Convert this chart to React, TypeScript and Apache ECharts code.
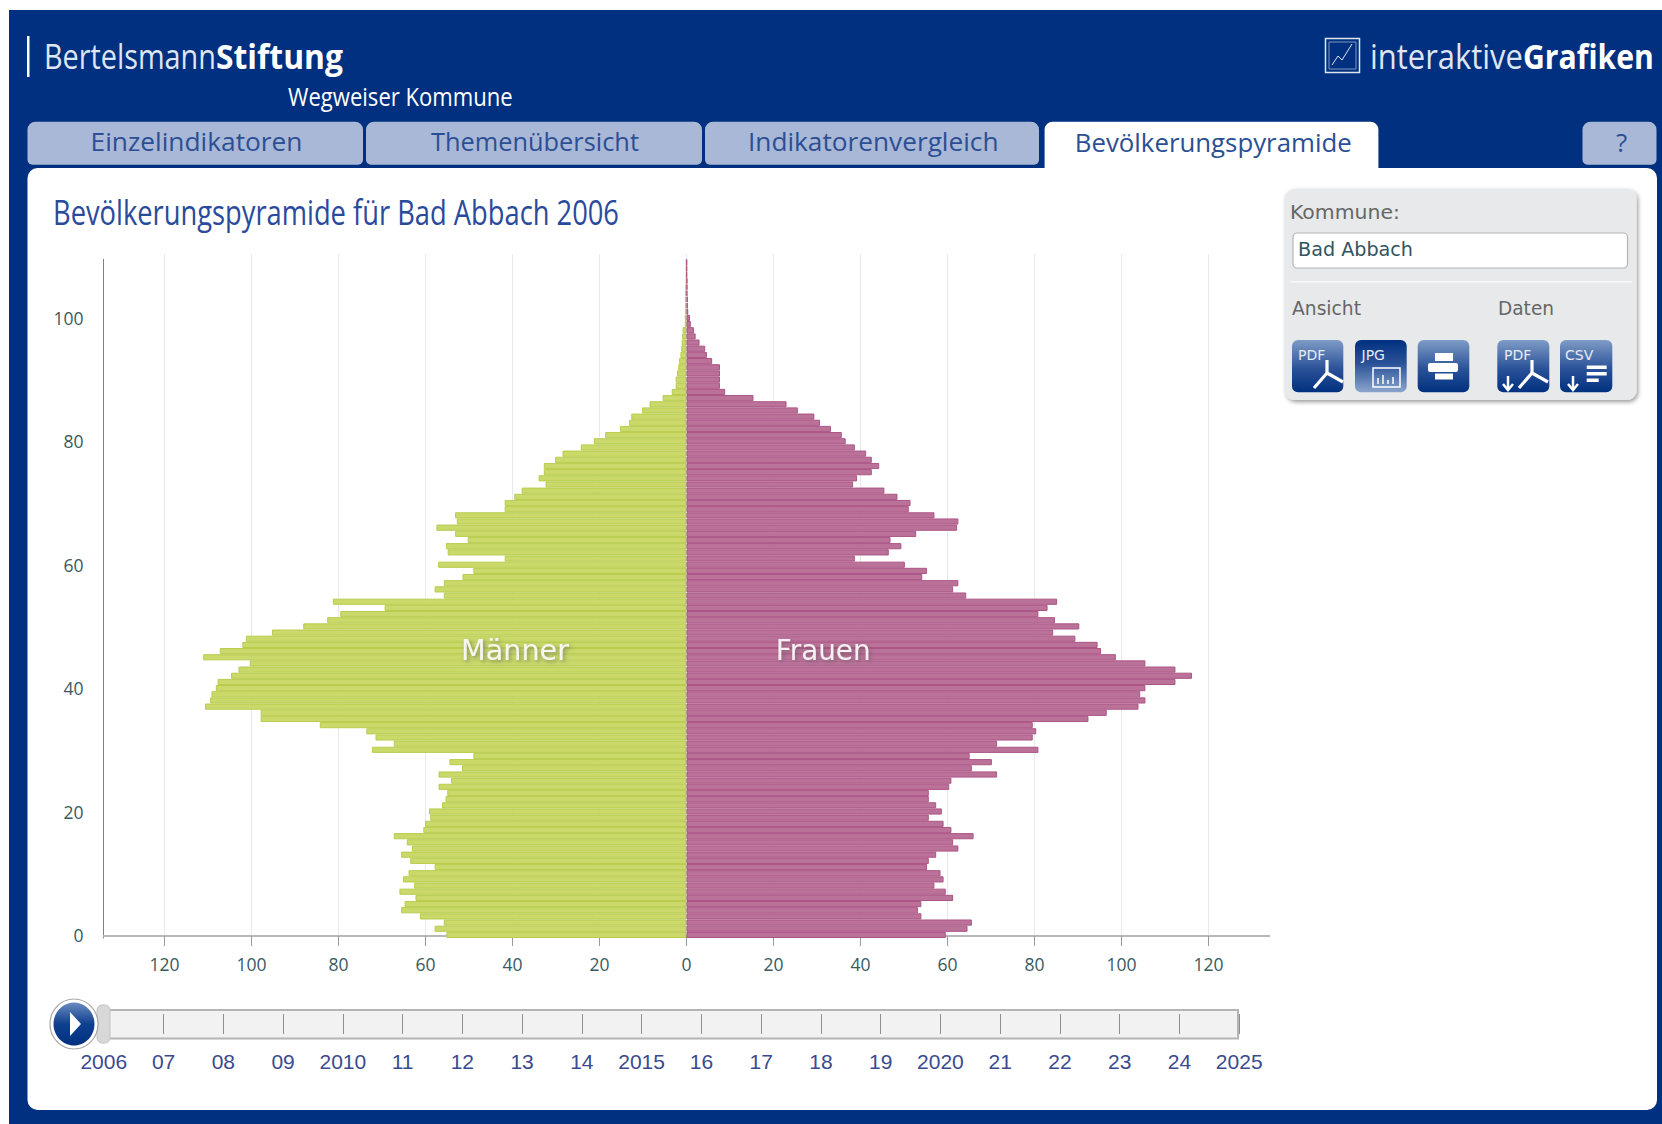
import React, { useEffect, useRef } from "react";
import * as echarts from "echarts";

const ages = Array.from({ length: 110 }, (_, i) => String(i));
const maleValues = [
  55.2, 57.9, 55.8, 61.3, 65.6, 64.8, 62.3, 66, 62.6, 65.2,
  63.9, 57.9, 63.5, 65.6, 63.1, 64.3, 67.3, 60.5, 60.1, 58.9,
  59.2, 56.2, 55.4, 55, 57, 54.1, 57, 51.6, 54.5, 49,
  72.3, 67.3, 71.5, 73.6, 84.3, 97.9, 97.9, 110.7, 109.5, 109.2,
  108.2, 107.8, 104.7, 103, 100.4, 111.1, 107.3, 102.1, 101.3, 95.3,
  88.1, 82.6, 79.6, 69.4, 81.3, 55.8, 57.9, 55.8, 51.5, 49,
  57.1, 41.8, 54.9, 55.3, 50.3, 53.2, 57.5, 52.8, 53.2, 41.8,
  41.8, 39.6, 37.9, 32.4, 34, 32.8, 32.8, 30.2, 28.5, 24.3,
  21.3, 18.7, 15.3, 13.2, 12.7, 10.2, 8.5, 5.5, 3.4, 2.5,
  2.5, 2.2, 1.9, 1.7, 1.4, 1.2, 1.1, 1, 0.9, 0.4,
  0.4, 0.3, 0.3, 0.3, 0.3, 0.2, 0.1, 0.1, 0.1, 0.1,
];
const femaleValues = [
  59.6, 64.6, 65.6, 54, 53.2, 54, 61.3, 59.6, 57, 59.1,
  58.4, 55.3, 55.7, 57.4, 62.5, 61.3, 66, 60.9, 59.1, 55.7,
  58.7, 57.4, 55.7, 55.7, 60.4, 60.9, 71.4, 65.6, 70.2, 65.1,
  80.9, 71.4, 79.6, 80.4, 79.6, 92.4, 96.6, 103.9, 105.5, 104.3,
  105.5, 112.4, 116.2, 112.4, 105.5, 98.7, 95.3, 94.5, 89.4, 84.3,
  90.3, 84.7, 80.9, 83, 85.2, 64.3, 61.3, 62.5, 54.2, 55.3,
  50.2, 38.7, 46.5, 49.4, 46.9, 52.8, 62.2, 62.5, 57, 51.1,
  51.5, 48.5, 45.5, 38.3, 39.2, 42.6, 44.3, 42.6, 41.3, 38.7,
  36.6, 35.7, 33.2, 30.7, 29.4, 25.6, 23, 15.4, 8.9, 7.7,
  7.7, 7.7, 7.7, 5.9, 4.7, 4.3, 3, 2.1, 1.7, 1,
  0.8, 0.4, 0.3, 0.3, 0.2, 0.2, 0.2, 0.1, 0.1, 0.1,
];
const sliderLabels = [
  "2006", "07", "08", "09", "2010", "11", "12", "13", "14", "2015",
  "16", "17", "18", "19", "2020", "21", "22", "23", "24", "2025",
];
const tabLabels = ["Einzelindikatoren", "Themenübersicht", "Indikatorenvergleich"];

const BLUE = "#00307f";
const OS = '"Open Sans", sans-serif';
const DV = '"DejaVu Sans", sans-serif';

const measureCanvas = document.createElement("canvas").getContext("2d")!;
function fit(text: string, size: number, family: string, weight: string, width: number) {
  measureCanvas.font = `${weight} ${size}px ${family}`;
  return width / measureCanvas.measureText(text).width;
}

function buildGraphic() {
  const els: any[] = [];
  const add = (e: any) => {
    e.z = e.z ?? -200 + els.length * 0.1;
    els.push(e);
  };
  const rect = (x: number, y: number, w: number, h: number, r: any, fill: any, extra: any = {}) =>
    add({ type: "rect", shape: { x, y, width: w, height: h, r }, style: { fill, ...extra }, silent: true });
  const text = (s: string, x: number, y: number, size: number, fill: string, o: any = {}) => {
    const family = o.family ?? OS;
    const weight = o.weight ?? "normal";
    const scaleX = o.width ? fit(s, size, family, weight, o.width) : 1;
    add({
      type: "text", x, y, scaleX, z: o.z,
      style: {
        text: s, fill, fontSize: size, fontFamily: family, fontWeight: weight,
        textAlign: o.align ?? "left", textVerticalAlign: "middle",
        textShadowBlur: o.blur ?? 0, textShadowColor: o.shadow ?? "transparent",
        textShadowOffsetX: o.blur ? 2 : 0, textShadowOffsetY: o.blur ? 2 : 0,
      },
      silent: true,
    });
  };
  const poly = (points: number[][], stroke: string, lineWidth: number, z?: number) =>
    add({ type: "polyline", z, shape: { points }, style: { stroke, lineWidth, fill: "none" }, silent: true });

  // frame and card
  rect(9, 10, 1653, 1114, 0, BLUE);
  rect(27.5, 168, 1629.5, 942, 10, "#ffffff");

  // header
  rect(27, 36, 2.5, 41, 0, "#ffffff");
  text("Bertelsmann", 44, 56, 34, "#dfe6f2", { width: 172 });
  text("Stiftung", 216, 56, 34, "#ffffff", { weight: "bold", width: 127 });
  text("Wegweiser Kommune", 288, 96.5, 25, "#ffffff", { width: 225 });
  add({ type: "rect", shape: { x: 1325.5, y: 38.5, width: 34, height: 34 }, style: { fill: "none", stroke: "#dfe6f2", lineWidth: 1.5 }, silent: true });
  add({ type: "rect", shape: { x: 1329, y: 42, width: 27, height: 27 }, style: { fill: "none", stroke: "#7f97c4", lineWidth: 1 }, silent: true });
  poly([[1332, 65], [1338, 56], [1342, 60], [1352, 44]], "#dfe6f2", 1);
  text("interaktive", 1370, 56, 34, "#dfe6f2", { width: 153 });
  text("Grafiken", 1523, 56, 34, "#ffffff", { weight: "bold", width: 131 });

  // tabs
  const tabX = [[27.5, 363], [366, 702], [705, 1039]];
  const tabText = [[90.6, 212], [431, 208], [748, 250.5]];
  tabLabels.forEach((label, i) => {
    rect(tabX[i][0], 121.7, tabX[i][1] - tabX[i][0], 43, [8, 8, 5, 5], "#a9b8d6");
    text(label, tabText[i][0], 141.5, 26, "#2b4f94", { width: tabText[i][1] });
  });
  rect(1044.6, 121.7, 333.8, 50, [8, 8, 0, 0], "#ffffff");
  text("Bevölkerungspyramide", 1074.8, 141.5, 26, "#2b4f94", { width: 277 });
  rect(1582.5, 121.7, 74, 43, [8, 8, 5, 5], "#a9b8d6");
  text("?", 1621.7, 141.5, 26, "#2b4f94", { align: "center" });

  // title
  text("Bevölkerungspyramide für Bad Abbach 2006", 53, 212, 34, "#2a4a9c", { width: 566 });

  // side panel
  rect(1285, 189, 351.5, 211, 9, "#e8e9eb", { shadowBlur: 4, shadowColor: "rgba(0,0,0,0.4)", shadowOffsetX: 1.5, shadowOffsetY: 2 });
  text("Kommune:", 1290, 212, 19.5, "#666666", { family: DV, width: 110 });
  add({ type: "rect", shape: { x: 1293, y: 233, width: 334.5, height: 35, r: 4 }, style: { fill: "#ffffff", stroke: "#b5b5b5", lineWidth: 1.2 }, silent: true });
  text("Bad Abbach", 1298, 249, 19, "#2f5560", { family: DV, width: 115 });
  rect(1290, 281, 342, 1.5, 0, "#f7f7f8");
  text("Ansicht", 1292, 308, 18.7, "#666666", { family: DV, width: 69 });
  text("Daten", 1498, 308, 18.7, "#666666", { family: DV, width: 56 });

  const gradient = (inv: boolean) => ({
    type: "linear", x: 0, y: 0, x2: 0, y2: 1,
    colorStops: inv
      ? [{ offset: 0, color: "#00307f" }, { offset: 0.45, color: "#2a5298" }, { offset: 1, color: "#8ba5cc" }]
      : [{ offset: 0, color: "#7f9cc6" }, { offset: 0.55, color: "#2a5298" }, { offset: 1, color: "#00307f" }],
  });
  const btnY = 340;
  const btnH = 52.3;
  const acrobat = (cx: number, cy: number) => {
    poly([[cx - 13, cy + 15], [cx, cy], [cx, cy - 13], [cx, cy], [cx + 16, cy + 9]], "#ffffff", 3.2);
  };
  const arrow = (cx: number, top: number) => {
    poly([[cx, top], [cx, top + 14]], "#ffffff", 2.5);
    poly([[cx - 5, top + 8], [cx, top + 14], [cx + 5, top + 8]], "#ffffff", 2.5);
  };
  // PDF view
  rect(1292, btnY, 51.3, btnH, 6, gradient(false));
  text("PDF", 1298, 355, 14, "#e6ecf6", { family: DV });
  acrobat(1327, 373);
  // JPG
  rect(1355, btnY, 51.7, btnH, 6, gradient(true));
  text("JPG", 1361.5, 355, 14, "#e6ecf6", { family: DV });
  add({ type: "rect", shape: { x: 1373, y: 368, width: 27, height: 19 }, style: { fill: "none", stroke: "#ffffff", lineWidth: 1.5 }, silent: true });
  poly([[1378, 384], [1378, 378]], "#ffffff", 1.5);
  poly([[1383, 384], [1383, 375]], "#ffffff", 1.5);
  poly([[1388, 384], [1388, 380]], "#ffffff", 1.5);
  poly([[1393, 384], [1393, 377]], "#ffffff", 1.5);
  // print
  rect(1417.7, btnY, 51.6, btnH, 6, gradient(false));
  rect(1435, 353, 18, 8, 0, "#ffffff");
  rect(1428, 363, 30, 9, 2, "#ffffff");
  rect(1435, 373.5, 18, 6, 0, "#ffffff");
  // PDF data
  rect(1497.3, btnY, 52, btnH, 6, gradient(false));
  text("PDF", 1504, 355, 14, "#e6ecf6", { family: DV });
  arrow(1508, 376);
  acrobat(1532, 373);
  // CSV data
  rect(1560, btnY, 52.3, btnH, 6, gradient(false));
  text("CSV", 1565, 355, 14, "#e6ecf6", { family: DV });
  arrow(1573, 376);
  rect(1586.7, 365.5, 20, 3.5, 0, "#ffffff");
  rect(1586.7, 372, 20, 3.5, 0, "#ffffff");
  rect(1586.7, 378.5, 12, 3.5, 0, "#ffffff");

  // slider track (behind the axis that draws its ticks)
  add({ type: "rect", shape: { x: 104, y: 1010, width: 1134, height: 28.5 }, style: { fill: "#f2f2f2", stroke: "#b4b4b4", lineWidth: 2 }, silent: true });

  // slider handle and play knob (on top)
  add({ type: "rect", z: 20, shape: { x: 97, y: 1005, width: 13, height: 38, r: 5 }, style: { fill: "#d8d8d8", stroke: "#c4c4c4", lineWidth: 1 }, silent: true });
  add({ type: "ellipse", z: 21, shape: { cx: 74, cy: 1024, rx: 24, ry: 25 }, style: { fill: "#ffffff", stroke: "#a8a8a8", lineWidth: 1.2 }, silent: true });
  add({
    type: "ellipse", z: 22, shape: { cx: 74, cy: 1024, rx: 20.5, ry: 21.5 },
    style: { fill: { type: "linear", x: 0, y: 0, x2: 0, y2: 1, colorStops: [{ offset: 0, color: "#6b8cc0" }, { offset: 0.5, color: "#0f3f8f" }, { offset: 1, color: "#00307f" }] } },
    silent: true,
  });
  add({ type: "polygon", z: 23, shape: { points: [[70, 1012], [81, 1024], [70, 1036]] }, style: { fill: "#ffffff" }, silent: true });

  // series captions
  text("Männer", 461, 650.7, 28, "#f6f6f0", { family: DV, width: 108, z: 30, blur: 4, shadow: "rgba(90,90,90,0.6)" });
  text("Frauen", 775.7, 650.7, 28, "#f6f0f3", { family: DV, width: 95, z: 30, blur: 4, shadow: "rgba(90,90,90,0.6)" });
  return els;
}

export default function App() {
  const ref = useRef<HTMLDivElement>(null);
  useEffect(() => {
    const chart = echarts.init(ref.current!, undefined, { renderer: "svg" });
    const axisText = { fontFamily: OS, fontSize: 17.5, color: "#3a5a60" };
    chart.setOption({
      animation: false,
      backgroundColor: "#ffffff",
      graphic: { elements: buildGraphic() },
      grid: [
        { left: 103.6, width: 1165.8, top: 259.3, height: 678.7 },
        { left: 164.5, width: 1044, top: 254, height: 682 },
        { left: 103.8, width: 1135.4, top: 1014, height: 20 },
      ],
      xAxis: [
        {
          gridIndex: 0, type: "value", min: -134, max: 134, offset: -2,
          axisLine: { show: true, onZero: false, lineStyle: { color: "#b8b8b8", width: 2 } },
          axisTick: { show: false }, axisLabel: { show: false }, splitLine: { show: false },
        },
        {
          gridIndex: 1, type: "value", min: -120, max: 120, interval: 20,
          axisLine: { show: false },
          axisTick: { show: true, length: 10, lineStyle: { color: "#9a9a9a", width: 1 } },
          axisLabel: { ...axisText, margin: 19, formatter: (v: number) => String(Math.abs(v)) },
          splitLine: { show: true, lineStyle: { color: "#e9e9ec", width: 1 } },
        },
        {
          gridIndex: 2, type: "category", boundaryGap: false, data: sliderLabels,
          axisLine: { show: false }, axisTick: { show: false },
          axisLabel: { interval: 0, fontFamily: '"Liberation Sans", sans-serif', fontSize: 21, color: "#3a4a90", margin: 17 },
          splitLine: { show: true, interval: 0, lineStyle: { color: "#8f8f8f", width: 1 } },
        },
      ],
      yAxis: [
        {
          gridIndex: 0, type: "category", data: ages,
          axisLine: { show: true, onZero: false, lineStyle: { color: "#808080", width: 1 } },
          axisTick: { show: false },
          axisLabel: { ...axisText, margin: 20, padding: [0, 0, 3, 0], interval: (i: number) => i % 20 === 0 },
          splitLine: { show: false },
        },
        { gridIndex: 1, type: "value", show: false },
        { gridIndex: 2, type: "value", show: false },
      ],
      series: [
        {
          name: "Männer", type: "bar", stack: "pyramide", xAxisIndex: 0, yAxisIndex: 0, barWidth: "100%",
          data: maleValues.map((v) => -v),
          itemStyle: { color: "#cad969", borderColor: "#b9cc4e", borderWidth: 1 },
        },
        {
          name: "Frauen", type: "bar", stack: "pyramide", xAxisIndex: 0, yAxisIndex: 0, barWidth: "100%",
          data: femaleValues,
          itemStyle: { color: "#bb7299", borderColor: "#ab5585", borderWidth: 1 },
        },
      ],
    });
    return () => chart.dispose();
  }, []);
  return <div ref={ref} style={{ position: "absolute", left: 0, top: 0, width: 1662, height: 1124 }} />;
}
